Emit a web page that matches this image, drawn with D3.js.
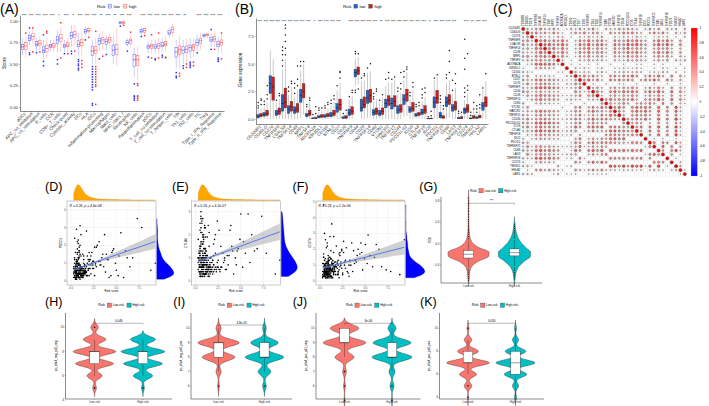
<!DOCTYPE html>
<html><head><meta charset="utf-8">
<script src="https://cdn.jsdelivr.net/npm/d3@7"></script>
<style>html,body{margin:0;padding:0;background:#fff;}svg{display:block;}</style>
</head><body>
<svg id="fig" width="709" height="406" xmlns="http://www.w3.org/2000/svg"></svg>
<script>
// ================= DATA =================
// Panel A : immune ssGSEA scores (box stats: [whiskerLow, q1, median, q3, whiskerHigh])
const immuneCats = ["aDCs","APC_co_inhibition","APC_co_stimulation","B_cells","CCR","CD8+_T_cells","Check-point","Cytolytic_activity","DCs","HLA","iDCs","Inflammation-promoting","Macrophages","Mast_cells","MHC_class_I","Neutrophils","NK_cells","Parainflammation","pDCs","T_cell_co-inhibition","T_cell_co-stimulation","T_helper_cells","Tfh","Th1_cells","Th2_cells","TIL","Treg","Type_I_IFN_Reponse","Type_II_IFN_Reponse"];
const immuneStars = ["***","***","***","***","***","*","***","*","***","***","***","**","***","**","***","***","","***","***","***","***","***","***","**","","***","***","***","***"];
const immuneLow = [[0.60,0.67,0.70,0.73,0.80],[0.72,0.77,0.80,0.83,0.88],[0.65,0.71,0.73,0.76,0.80],[0.56,0.63,0.66,0.70,0.78],[0.65,0.69,0.71,0.73,0.78],[0.64,0.74,0.78,0.82,0.90],[0.64,0.69,0.71,0.73,0.78],[0.70,0.80,0.83,0.87,0.95],[0.60,0.70,0.73,0.77,0.86],[0.83,0.86,0.88,0.90,0.93],[0.50,0.60,0.65,0.70,0.78],[0.65,0.73,0.77,0.80,0.86],[0.66,0.73,0.76,0.79,0.84],[0.50,0.60,0.66,0.72,0.83],[0.96,0.97,0.98,0.99,1.00],[0.70,0.73,0.75,0.77,0.80],[0.35,0.47,0.55,0.61,0.69],[0.84,0.87,0.88,0.90,0.92],[0.63,0.68,0.70,0.72,0.76],[0.62,0.68,0.70,0.73,0.78],[0.65,0.70,0.72,0.75,0.80],[0.80,0.84,0.86,0.89,0.92],[0.45,0.58,0.64,0.69,0.78],[0.50,0.62,0.66,0.70,0.78],[0.57,0.65,0.69,0.72,0.80],[0.65,0.72,0.75,0.78,0.84],[0.80,0.82,0.83,0.84,0.86],[0.70,0.76,0.78,0.81,0.86],[0.62,0.70,0.73,0.76,0.82]];
const immuneHigh = [[0.58,0.67,0.71,0.75,0.82],[0.74,0.79,0.82,0.85,0.90],[0.66,0.72,0.74,0.77,0.82],[0.57,0.64,0.68,0.72,0.80],[0.64,0.69,0.71,0.74,0.79],[0.64,0.76,0.80,0.84,0.93],[0.64,0.70,0.72,0.75,0.80],[0.70,0.81,0.84,0.88,0.96],[0.60,0.71,0.75,0.79,0.88],[0.84,0.88,0.89,0.91,0.93],[0.50,0.62,0.66,0.70,0.80],[0.66,0.74,0.78,0.81,0.88],[0.68,0.75,0.78,0.81,0.86],[0.48,0.61,0.67,0.73,0.92],[0.96,0.97,0.98,0.99,1.00],[0.70,0.74,0.77,0.79,0.83],[0.30,0.48,0.55,0.60,0.70],[0.85,0.87,0.89,0.91,0.93],[0.62,0.68,0.71,0.73,0.78],[0.61,0.68,0.71,0.74,0.80],[0.64,0.71,0.73,0.76,0.82],[0.82,0.87,0.90,0.93,0.97],[0.45,0.61,0.67,0.71,0.82],[0.52,0.63,0.67,0.71,0.80],[0.58,0.66,0.70,0.73,0.80],[0.67,0.74,0.77,0.80,0.86],[0.80,0.83,0.84,0.85,0.86],[0.70,0.76,0.79,0.82,0.88],[0.63,0.72,0.75,0.78,0.84]];
const immuneLowOut = [[],[0.61,0.63,0.92],[0.63],[0.48,0.53,0.84],[],[0.50,0.55],[0.62],[0.62,0.65],[0.43,0.45,0.48,0.50,0.53,0.55],[0.78],[0.02,0.04,0.20,0.23,0.26,0.29,0.32,0.35,0.38,0.41,0.44,0.47],[0.56],[0.61],[],[0.94],[0.65],[0.08,0.10,0.12,0.13,0.27],[0.82],[0.58],[0.55,0.56],[0.58,0.60],[],[0.34,0.36,0.40],[0.45,0.48],[0.46,0.48,0.50,0.52],[0.63],[],[0.67,0.90],[0.53,0.55,0.57]];
const immuneHighOut = [[0.86],[0.64,0.92],[0.64],[0.86,0.88],[],[0.57,0.98],[0.62],[0.65],[0.46,0.50,0.54],[0.81],[0.03,0.24,0.26,0.29,0.32,0.35,0.38,0.41,0.44,0.47,0.88],[0.59],[],[],[0.95],[0.87],[0.08,0.10,0.12,0.13,0.25,0.27],[0.83],[0.57,0.84],[0.57,0.86],[0.57,0.58],[],[0.36,0.39],[0.46,0.50],[0.48,0.52],[],[],[0.67],[0.56,0.86]];
const yTicksA = [0,0.25,0.5,0.75,1];

// Panel B : immune checkpoint gene expression
const geneNames = ["CD200R1","CD40LG","CD276","TNFRSF8","LGALS9","TNFSF14","CD48","NRP1","TNFSF4","ADORA2A","KIR3DL1","CD160","BTNL2","CD27","CD70","TNFRSF9","CD44","CD28","TNFRSF14","CD80","VTCN1","HAVCR2","TNFSF15","CD244","PDCD1LG2","ICOS","CTLA4","TNFSF18","IDO2","PDCD1","TNFRSF25","CD86","LAG3","TNFRSF18","CD274","TMIGD2","HHLA2","LAIR1"];
const geneStars = ["***","***","***","***","***","***","***","***","***","*","***","***","***","***","","***","***","***","***","***","**","***","***","***","***","***","***","***","*","***","***","***","***","","***","**","***","***"];
const geneLow = [[0,0.1,0.25,0.4,0.85],[0,0.25,0.4,0.6,1.1],[0,2.3,3.2,3.9,6.2],[0,0.3,0.5,0.8,1.5],[0,0.7,1.4,2.2,4.4],[0,0.5,0.9,1.2,2.2],[0,0.5,0.8,1.1,2.0],[0.1,1.5,2.1,2.7,4.4],[0,0.2,0.35,0.5,0.9],[0,0.02,0.06,0.1,0.25],[0,0.1,0.2,0.3,0.6],[0,0.15,0.25,0.4,0.8],[0,0.2,0.35,0.6,1.2],[0,0.6,1.0,1.4,2.6],[0,0.05,0.1,0.2,0.4],[0,0.3,0.55,0.9,1.8],[3.0,3.8,4.2,4.5,5.5],[0,0.7,1.0,1.8,3.4],[0.1,1.4,1.9,2.6,4.2],[0,0.35,0.6,0.85,1.6],[0,0.3,0.5,0.8,1.5],[0,1.0,1.4,1.8,3.0],[0,0.9,1.4,1.9,3.3],[0,0.5,0.8,1.2,2.2],[0.2,1.3,1.8,2.2,3.5],[0,0.6,0.85,1.1,1.8],[0,0.25,0.35,0.5,0.9],[0,0.4,0.6,0.9,1.6],[0,0.01,0.03,0.05,0.1],[0,1.0,1.5,2.0,3.5],[0,0.1,0.3,0.6,1.3],[0,1.1,1.5,2.0,3.3],[0,0.7,1.0,1.3,2.2],[0,0.02,0.06,0.15,0.35],[0,0.5,0.8,1.0,1.7],[0,0.01,0.04,0.1,0.25],[0,0.05,0.1,0.2,0.45],[0,0.8,1.2,1.5,2.6]];
const geneHigh = [[0,0.2,0.35,0.5,0.95],[0,0.3,0.5,0.8,1.5],[0,1.7,2.9,3.8,5.4],[0,0.4,0.7,1.0,1.8],[0,1.0,1.5,2.8,5.4],[0,0.7,1.1,1.6,2.9],[0,0.6,0.9,1.4,2.6],[0.4,1.9,2.5,3.2,5.0],[0,0.3,0.5,0.8,1.5],[0,0.03,0.08,0.15,0.35],[0,0.15,0.25,0.4,0.8],[0,0.2,0.35,0.5,1.0],[0,0.3,0.5,0.8,1.5],[0,0.8,1.3,1.8,3.3],[0,0.05,0.15,0.3,0.6],[0,0.4,0.7,1.1,2.1],[3.1,4.0,4.35,4.7,5.6],[0,1.0,1.3,2.0,3.5],[0.2,1.5,2.1,2.7,4.3],[0,0.4,0.7,1.0,1.8],[0,0.4,0.7,1.0,1.9],[0,1.2,1.7,2.1,3.3],[0,1.1,1.6,2.1,3.5],[0,0.6,0.9,1.3,2.4],[0.3,1.6,2.2,2.7,4.2],[0,0.7,0.95,1.5,2.6],[0,0.3,0.45,0.6,1.0],[0,0.5,0.8,1.2,2.0],[0,0.01,0.04,0.08,0.18],[0,1.4,1.9,2.6,3.8],[0,0.05,0.15,0.3,0.7],[0.1,1.3,1.7,2.2,3.5],[0,0.8,1.1,1.6,2.8],[0,0.03,0.08,0.2,0.45],[0,0.6,0.9,1.3,2.3],[0,0.05,0.15,0.3,0.7],[0,0.1,0.2,0.35,0.8],[0,1.1,1.5,2.0,3.4]];
const geneLowOut = [[1.0,1.2,1.5],[1.3,1.6],[],[1.7],[4.8,5.3,5.8,6.2,6.5],[2.5,2.9],[2.3,2.8,3.2],[4.8,5.2],[1.1,1.3],[0.4],[0.8,1.0],[1.0,1.2],[1.4,1.7],[3.0],[0.5],[2.0],[2.4,2.6,5.9,6.1],[3.7],[4.6],[1.8,2.0,2.3],[1.7],[3.6],[3.6],[2.5,2.8],[3.8,4.3],[2.1,2.4],[1.1,1.3],[1.9,2.2,2.7],[0.2],[3.7],[1.5,1.8,2.1],[3.7,4.0],[2.6,3.5],[0.5,0.7],[2.0,2.4,2.8,4.5,5.5,7.2],[0.35,0.6],[0.6,0.9,1.2],[2.8]];
const geneHighOut = [[1.3,1.7,1.8],[1.8,2.2,3.0],[],[2.1,2.3],[5.8,6.4,7.0,7.6,8.2,8.5],[3.2,3.4],[3.0,3.6,4.8],[5.2],[1.7,1.9],[0.5,1.1],[1.0],[1.3,1.5],[1.8,2.1],[3.7,4.2,4.3],[0.8],[2.4,2.6],[2.7,5.9],[3.9,4.1],[5.0],[2.5,2.7],[2.2],[3.7,4.2],[3.8],[2.7,3.2,4.2],[4.5,4.7],[2.9,3.3],[1.2,1.5],[2.4,2.8],[0.3,0.7],[4.0],[0.9,1.2],[4.2,5.2,6.2],[3.2,4.1],[0.6],[2.6,3.0,5.9],[0.9,1.5],[1.0,1.3,2.2],[4.1]];
const yTicksB = [0,2.5,5,7.5];

// Panel C : correlation matrix, upper triangle, digit d = r of d/10
const corrUpper = ["3245334201324235103224343202424032303","453425310243524410433545320353520313","23121320102131230021221311012120102","5645463025463552054465643046463040","675574026574663065576754057574050","56363024562542053564543035452030","4463025463552054465643046463040","352014352441043354532035352031","20103242331032243432024240323","0101010100100100110010100010","021210120011211210010210101","31220231022322320121320201","4535320453546403536305041","463520545454035464053030","01001001100100010010010","3420342435302425204031","530564656504647406051","20342435302425204031","4645546304547406051","423530343530504021","56405656506050720","5305656406050620","304545305040510","44546306050720","3430204030420","450506050720","40505040610","0406050720","010100100","50540620","0605030","405720","04010","0100","020","30","1"];
const colorbarTicks = [1,0.8,0.6,0.4,0.2,0,-0.2,-0.4,-0.6,-0.8,-1];

// Panels D-F : risk score vs gene expression (sampled points)
const riskScore = [0.4,0.6,0.8,0.5,1.1,0.9,0.7,1.3,0.5,0.6,1.0,1.5,0.8,0.4,0.9,1.2,0.7,0.6,1.8,0.5,0.9,1.1,1.4,0.3,0.8,0.6,1.0,2.1,0.7,0.5,1.2,0.9,1.6,0.4,0.8,1.3,0.6,0.7,2.4,1.0,0.5,1.1,0.9,1.7,0.6,0.8,1.4,0.5,1.0,2.0,0.7,0.9,1.2,0.4,1.5,0.8,0.6,1.9,1.1,0.7,2.2,0.5,1.0,1.3,0.8,2.7,0.6,1.6,0.9,1.2,3.0,0.7,1.4,0.5,2.5,1.1,0.8,3.3,1.0,1.8,0.6,2.3,1.5,3.6,0.9,1.2,2.9,0.7,4.0,1.4,2.6,1.0,3.8,1.7,0.8,4.4,2.0,1.3,3.1,5.0,0.6,2.8,4.7,1.1,3.4,5.5,1.9,0.9,4.2,2.2,6.0,1.5,3.7,5.2,2.4,0.5,4.9,6.5,1.6,3.2,7.3,2.1,5.8,1.2,7.8,4.5,9.3,2.6,6.8,3.9,8.8,1.0,0.7,1.3,0.4,2.0,0.8,1.1,0.6,1.5,0.9,1.7,0.5,1.2,0.8,2.3,0.6,1.4,1.0,0.7,
  0.3,0.5,0.7,0.9,1.1,1.3,0.4,0.6,0.8,1.0,1.2,1.4,1.6,0.5,0.7,0.9,0.3,1.1,1.5,0.6,0.8,1.0,1.2,0.4,1.7,0.5,0.9,1.3,2.0,0.7,0.6,1.1,0.8,1.4,0.3,1.9,1.0,0.5,0.7,2.2,1.2,0.9,0.6,1.6,0.4,0.8,1.0,2.5,1.3,0.5,0.7,1.1,0.9,1.8,0.6,0.4,1.5,2.8,0.8,1.0,0.5,1.2,0.7,2.1,0.9,0.3,1.4,0.6,3.5,1.1,0.8,1.7,0.5,2.4,1.0,0.7,4.1,1.3,0.6,2.0,0.9,1.5,0.4,3.2,1.2,0.8,2.7,0.6,1.0,5.3,0.7,1.9,0.5,1.1,4.6,0.9,1.4,6.2,0.8,1.6];
const expPDCD1 = [0.3,0.5,0.2,0.8,0.6,0.4,1.1,0.3,0.1,0.7,0.5,0.9,1.3,0.2,0.4,0.6,0.8,0.3,1.0,0.5,0.2,1.4,0.7,0.4,0.3,0.9,0.1,1.2,0.6,0.8,0.4,1.6,0.5,0.3,0.7,0.2,1.1,0.4,0.9,0.6,0.8,0.3,1.9,0.5,0.2,1.0,0.4,0.7,1.5,0.3,0.6,0.2,0.8,2.4,0.5,1.2,0.3,0.7,0.4,1.8,0.9,0.1,0.6,0.3,2.1,1.0,0.5,0.4,1.3,0.2,1.1,0.8,0.3,0.6,0.7,2.6,0.4,0.9,3.1,1.4,0.2,1.6,0.5,0.8,1.7,0.3,2.0,0.6,1.2,0.4,1.9,0.7,0.5,2.8,0.9,0.3,1.1,1.5,2.2,0.6,2.9,0.8,1.8,0.4,1.3,2.7,0.6,1.0,0.2,1.4,1.7,0.9,2.6,0.3,1.1,1.6,1.0,0.8,0.5,0.9,3.5,1.2,0.2,0.7,3.0,1.6,1.0,0.3,1.3,1.5,0.6,0.4,0.8,0.2,0.5,0.9,0.3,0.6,0.1,0.4,0.7,0.3,0.5,0.8,0.2,1.0,0.4,1.2,0.6,0.3,
  0.2,0.6,0.4,0.9,0.3,0.7,1.2,0.1,0.5,0.8,0.3,1.0,0.6,0.4,1.5,0.2,0.7,0.5,0.9,1.1,0.3,0.6,0.4,1.3,0.8,0.2,1.7,0.5,0.7,0.4,1.0,0.3,0.9,0.6,0.5,1.2,0.2,0.8,2.2,0.4,0.7,1.4,0.3,0.5,1.0,0.6,0.9,1.1,0.4,0.2,1.6,0.8,0.5,0.3,1.2,0.7,0.6,1.9,0.4,0.9,0.5,0.3,1.1,0.7,0.2,0.8,1.4,0.6,1.5,0.4,1.3,0.5,0.9,0.7,2.0,0.3,1.2,0.6,1.0,1.6,0.4,0.8,0.6,1.1,0.3,2.3,0.9,0.5,0.7,1.4,1.0,0.6,0.2,0.8,1.7,0.4,0.5,1.3,0.9,0.7];
const expCTLA4 = [0.4,0.2,0.9,0.6,1.2,0.3,0.7,0.5,1.5,0.2,0.8,0.4,1.0,0.6,2.0,0.3,0.9,1.3,0.5,0.7,1.1,0.3,0.6,1.8,0.4,0.8,2.3,0.5,1.0,0.2,0.7,1.4,0.3,0.9,1.6,0.5,0.4,2.6,0.8,1.2,0.3,1.0,0.6,0.5,2.8,0.7,0.2,1.1,0.9,0.4,1.7,0.8,0.5,1.3,0.6,0.3,2.1,0.9,0.4,1.0,0.6,1.5,0.2,0.7,1.1,0.5,3.0,0.8,1.9,0.4,1.2,0.3,2.4,0.9,0.6,1.4,2.7,0.5,1.0,0.8,1.3,0.4,2.1,0.7,1.8,1.1,0.6,2.5,1.5,0.9,0.5,1.2,2.2,0.4,1.6,1.0,0.7,1.9,0.8,2.9,1.0,0.6,1.4,2.3,0.5,1.2,0.9,1.7,0.3,2.0,0.8,1.5,1.1,0.6,2.6,0.4,1.8,1.3,0.7,0.9,2.8,0.5,2.9,1.0,1.2,0.7,0.9,2.2,1.4,2.4,0.3,0.9,0.6,1.1,0.4,0.7,1.3,0.5,0.8,0.2,1.0,0.6,0.4,0.7,1.2,0.5,0.9,0.3,1.4,0.6,
  0.5,0.3,0.8,0.6,1.1,0.4,0.9,1.7,0.2,0.7,1.3,0.5,0.6,2.2,0.4,0.8,1.0,0.3,0.7,1.5,0.6,0.9,0.4,1.2,0.5,2.5,0.3,0.8,1.1,0.6,0.4,1.9,0.7,0.5,1.0,0.3,1.4,0.6,0.9,1.2,0.8,0.5,1.6,0.4,0.7,2.0,0.3,0.9,1.1,0.6,0.5,1.3,0.8,0.4,2.7,1.0,0.6,1.5,0.7,0.3,1.2,0.9,0.5,1.8,0.4,0.8,0.6,2.3,1.1,0.7,0.5,1.0,1.4,0.6,0.9,2.1,1.3,0.4,0.8,1.6,0.7,0.5,1.2,1.0,0.6,1.9,0.4,0.9,2.4,1.7,0.8,0.6,1.1,0.3,1.3,0.7,0.5,2.0,0.9,1.0];
const expCD274 = [0.5,0.3,0.8,1.0,0.4,0.6,1.2,0.2,0.7,0.9,0.3,1.1,0.5,4.8,0.4,1.4,0.6,0.2,0.9,1.0,0.4,0.8,1.3,0.3,0.6,0.5,0.9,1.7,0.4,0.7,1.0,0.2,0.6,1.5,0.8,0.3,1.1,0.5,2.0,0.7,0.4,0.9,1.2,0.6,0.3,2.4,0.8,0.5,1.0,0.4,0.7,1.3,0.3,0.9,2.8,0.5,0.6,1.1,0.2,0.8,1.6,0.4,1.0,0.7,0.3,1.2,2.6,0.9,0.5,1.9,0.6,1.1,0.8,3.0,0.4,1.5,0.7,1.3,0.9,2.2,0.5,1.0,1.8,0.6,0.3,1.4,2.1,0.8,1.2,0.7,2.5,0.4,1.1,0.9,0.6,1.7,1.0,3.6,0.5,2.3,0.8,1.3,0.7,2.8,1.0,1.6,0.4,1.2,2.0,0.9,1.5,0.6,1.9,1.1,0.8,0.3,1.4,2.0,1.2,1.0,0.7,0.7,0.9,1.4,0.6,2.4,2.6,1.8,0.9,1.3,0.4,0.8,0.5,1.0,0.3,0.6,0.2,0.7,0.9,0.5,1.1,0.4,0.6,0.3,0.8,1.2,0.5,1.0,0.7,0.4,
  0.4,0.7,0.2,0.9,0.5,1.1,0.3,0.6,0.8,1.3,0.5,0.2,0.7,1.0,0.4,1.6,0.6,0.3,0.9,0.5,1.2,0.4,0.8,0.6,1.0,0.3,1.4,0.7,0.5,2.1,0.9,0.6,0.4,1.1,0.2,0.8,1.3,0.5,0.7,1.8,0.3,1.0,0.6,0.9,1.5,0.4,0.7,0.5,1.2,0.8,0.6,0.3,1.1,0.9,0.5,1.7,0.4,0.8,1.0,0.6,1.3,0.7,0.5,0.2,0.9,1.1,0.6,1.4,2.4,0.8,0.4,1.2,0.7,1.9,0.5,0.9,1.6,0.6,1.0,1.3,0.8,0.5,1.1,0.3,0.7,2.2,1.0,0.6,1.5,2.9,0.4,1.2,0.7,0.9,1.8,0.5,1.0,2.3,0.6,0.8];
// fitted lines [intercept, slope] and ribbon half-widths [x, halfwidth]
const fitPDCD1 = [0.59,0.175], bandPDCD1 = [[0.3,0.08],[1.5,0.05],[3,0.08],[5,0.17],[7,0.28],[9.3,0.41]];
const fitCTLA4 = [0.80,0.143], bandCTLA4 = [[0.3,0.08],[1.5,0.05],[3,0.08],[5,0.16],[7,0.25],[9.3,0.36]];
const fitCD274 = [0.77,0.146], bandCD274 = [[0.3,0.09],[1.5,0.06],[3,0.1],[5,0.2],[7,0.32],[9.3,0.46]];
const corText = ["R = 0.26, p = 4.6e-08","R = 0.24, p = 4.2e-07","R = 0.23, p = 2.2e-06"];

// Panel G : TIDE (value levels and counts)
const tideLevels = [-0.65,-0.55,-0.45,-0.35,-0.25,-0.15,-0.05,0.05,0.15,0.25,0.35,0.45,0.55,0.65,0.75,0.85];
const tideLowCounts = [2,3,6,20,60,62,20,7,3,2,1,1,1,1,1,1];
const tideHighCounts = [2,4,10,25,50,50,30,16,8,4,2,0,0,0,0,0];
const tideLowBox = [-0.45,-0.27,-0.2,-0.13,0.05], tideHighBox = [-0.42,-0.23,-0.17,-0.1,0.08];
const tideLowOut = [0.09,0.13,0.17,0.21,0.25,0.29,0.33,0.37,0.41,0.45,0.5,0.55,0.6,0.65,0.7,0.75,0.8,0.85,-0.49,-0.53,-0.57,-0.61,-0.65,-0.69];
const tideHighOut = [0.12,0.16,0.2,0.24,0.28,0.32,0.35,-0.46,-0.5,-0.54,-0.58,-0.62,-0.66];
const tideTicks = [-0.4,0,0.4,0.8];

// Panels H-K : IPS scores (score levels 4..10 and counts)
const ipsLevels = [4,5,6,7,8,9,10];
const ipsH_low = [0,4,16,40,45,24,8], ipsH_high = [0,3,20,40,45,26,0];
const ipsI_low = [0,0,2,6,38,48,6], ipsI_high = [0,0,4,14,42,30,4];
const ipsJ_low = [0,1,2,4,20,45,30], ipsJ_high = [0,1,4,6,40,38,8];
const ipsK_low = [1,8,18,45,22,8,2], ipsK_high = [2,6,22,38,20,6,2];
const ipsBoxes = {H:[[6,7,8,8,9],[6,7,8,8,9]], I:[[7,8,9,9,10],[7,8,8,9,10]], J:[[8,9,9,10,10],[7,8,8,9,10]], K:[[6,7,7,8,9],[4,6,7,8,10]]};
const ipsOut = {H:[[5,10],[5]], I:[[6],[6]], J:[[7,6,5],[6,5]], K:[[5,4,10],[]]};
const ipsTitles = ["ips_ctla4_neg_pd1_neg","ips_ctla4_neg_pd1_pos","ips_ctla4_pos_pd1_neg","ips_ctla4_pos_pd1_pos"];
const ipsP = ["0.049","4.8e-05","3e-06","0.050"];
const riskGroups = ["Low-risk","High-risk"];

// ================= DRAWING =================
const FONT = '"Liberation Sans", Arial, Helvetica, sans-serif';
const svg = d3.select('#fig').attr('font-family', FONT);
svg.append('rect').attr('width',709).attr('height',406).attr('fill','#fff');

function txt(x,y,s,fs,o={}){
  const t=svg.append('text').attr('x',x).attr('y',y).attr('font-size',fs).attr('fill',o.fill||'#000').text(s);
  if(o.anchor) t.attr('text-anchor',o.anchor);
  if(o.rot!=null) t.attr('transform',`rotate(${o.rot},${x},${y})`);
  if(o.baseline) t.attr('dominant-baseline',o.baseline);
  if(o.style) t.attr('font-style',o.style);
  return t;
}
function styleAxis(g,fs,col){
  g.attr('font-size',fs).attr('font-family',FONT);
  g.select('.domain').attr('stroke','#000').attr('stroke-width',0.45);
  g.selectAll('.tick line').attr('stroke','#333').attr('stroke-width',0.35);
  g.selectAll('.tick text').attr('fill',col||'#4d4d4d');
}
function kdeSample(sample,bw,lo,hi,n){
  const out=[];const c=1/(sample.length*bw*Math.sqrt(2*Math.PI));
  for(let i=0;i<=n;i++){const v=lo+(hi-lo)*i/n;let s=0;for(const x of sample){const z=(v-x)/bw;s+=Math.exp(-0.5*z*z);}out.push([v,s*c]);}
  return out;
}
function kdeLevels(levels,counts,bw,lo,hi,n){
  const tot=d3.sum(counts);const out=[];const c=1/(tot*bw*Math.sqrt(2*Math.PI));
  for(let i=0;i<=n;i++){const v=lo+(hi-lo)*i/n;let s=0;levels.forEach((l,k)=>{if(counts[k]>0){const z=(v-l)/bw;s+=counts[k]*Math.exp(-0.5*z*z);}});out.push([v,s*c]);}
  return out;
}
function nrd0(a){
  const s=a.slice().sort(d3.ascending);
  const iqr=d3.quantileSorted(s,0.75)-d3.quantileSorted(s,0.25);
  const lo=Math.min(d3.deviation(a),iqr/1.34);
  return 0.9*lo*Math.pow(a.length,-0.2);
}
function drawBox(g,cx,w,s,out,o){
  const [wlo,q1,med,q3,whi]=s, y=o.y;
  g.append('line').attr('x1',cx).attr('x2',cx).attr('y1',y(wlo)).attr('y2',y(q1)).attr('stroke',o.wcol).attr('stroke-width',o.ww);
  g.append('line').attr('x1',cx).attr('x2',cx).attr('y1',y(q3)).attr('y2',y(whi)).attr('stroke',o.wcol).attr('stroke-width',o.ww);
  g.append('rect').attr('x',cx-w/2).attr('y',y(q3)).attr('width',w).attr('height',Math.max(0.3,y(q1)-y(q3)))
    .attr('fill',o.fill).attr('stroke',o.stroke).attr('stroke-width',o.sw);
  g.append('line').attr('x1',cx-w/2).attr('x2',cx+w/2).attr('y1',y(med)).attr('y2',y(med)).attr('stroke',o.mcol).attr('stroke-width',o.mw);
  out.forEach(v=>o.pt(g,cx,y(v)));
}
function riskLegend(x,y,fsT,fsL,items){
  let cx=x;
  const t=txt(cx,y,'Risk',fsT,{baseline:'central'});
  cx+=t.node().getComputedTextLength()+1.8;
  items.forEach(it=>{
    it.key(cx,y);
    cx+=it.kw+1.2;
    const tt=txt(cx,y,it.label,fsL,{baseline:'central'});
    cx+=tt.node().getComputedTextLength()+2.6;
  });
}

// ---------- Panel A ----------
(function(){
  const L=20,R=224,T=15,B=111;
  const x=d3.scalePoint().domain(immuneCats).range([L,R]).padding(0.6);
  const y=d3.scaleLinear().domain([-0.0465,1.0698]).range([B,T]);
  const g=svg.append('g');
  const gy=g.append('g').attr('transform',`translate(${L},0)`)
    .call(d3.axisLeft(y).tickValues(yTicksA).tickFormat(d3.format('.2f')).tickSize(1.3).tickSizeOuter(0).tickPadding(0.8));
  styleAxis(gy,4.2,'#333');
  const gx=g.append('g').attr('transform',`translate(0,${B})`).call(d3.axisBottom(x).tickSize(1.3).tickSizeOuter(0));
  styleAxis(gx,4.5,'#333');
  gx.selectAll('.tick text').attr('transform','rotate(-45)').attr('text-anchor','end').attr('x',-1.2).attr('y',1.6).attr('dy','0.35em');
  txt(5.5,63,'Score',4.6,{anchor:'middle',rot:-90});
  const low={y,wcol:'#a7a7ff',ww:0.55,fill:'none',stroke:'#4a4aff',sw:0.45,mcol:'#3030ff',mw:0.6,
    pt:(gg,cx,cy)=>gg.append('rect').attr('x',cx-0.75).attr('y',cy-0.75).attr('width',1.5).attr('height',1.5).attr('fill','#2e2eff')};
  const high={y,wcol:'#ffa7a7',ww:0.55,fill:'none',stroke:'#ff4a4a',sw:0.45,mcol:'#ff3030',mw:0.6,
    pt:(gg,cx,cy)=>gg.append('rect').attr('x',cx-0.75).attr('y',cy-0.75).attr('width',1.5).attr('height',1.5).attr('fill','#ff2e2e')};
  immuneCats.forEach((c,i)=>{
    drawBox(g,x(c)-1.65,2.6,immuneLow[i],immuneLowOut[i],low);
    drawBox(g,x(c)+1.65,2.6,immuneHigh[i],immuneHighOut[i],high);
    if(immuneStars[i]) txt(x(c),17.2,immuneStars[i],4.2,{anchor:'middle'});
  });
  txt(0,14,'(A)',14);
  riskLegend(97,6.2,4.3,3.9,[
    {label:'low',kw:5.5,key:(kx,ky)=>{svg.append('rect').attr('x',kx+1).attr('y',ky-1.8).attr('width',3.5).attr('height',3.6).attr('fill','none').attr('stroke','#4a4aff').attr('stroke-width',0.45);
      svg.append('line').attr('x1',kx+1).attr('x2',kx+4.5).attr('y1',ky).attr('y2',ky).attr('stroke','#4a4aff').attr('stroke-width',0.45);
      svg.append('line').attr('x1',kx+2.75).attr('x2',kx+2.75).attr('y1',ky-2.8).attr('y2',ky-1.8).attr('stroke','#a7a7ff').attr('stroke-width',0.45);
      svg.append('line').attr('x1',kx+2.75).attr('x2',kx+2.75).attr('y1',ky+1.8).attr('y2',ky+2.8).attr('stroke','#a7a7ff').attr('stroke-width',0.45);}},
    {label:'high',kw:5.5,key:(kx,ky)=>{svg.append('rect').attr('x',kx+1).attr('y',ky-1.8).attr('width',3.5).attr('height',3.6).attr('fill','none').attr('stroke','#ff4a4a').attr('stroke-width',0.45);
      svg.append('line').attr('x1',kx+1).attr('x2',kx+4.5).attr('y1',ky).attr('y2',ky).attr('stroke','#ff4a4a').attr('stroke-width',0.45);
      svg.append('line').attr('x1',kx+2.75).attr('x2',kx+2.75).attr('y1',ky-2.8).attr('y2',ky-1.8).attr('stroke','#ffa7a7').attr('stroke-width',0.45);
      svg.append('line').attr('x1',kx+2.75).attr('x2',kx+2.75).attr('y1',ky+1.8).attr('y2',ky+2.8).attr('stroke','#ffa7a7').attr('stroke-width',0.45);}}
  ]);
})();

// ---------- Panel B ----------
(function(){
  const L=256,R=488,T=18,B=124;
  const x=d3.scalePoint().domain(geneNames).range([L,R]).padding(0.6);
  const s0=d3.scaleLinear().domain([0,7.5]).range([119,36]);
  const y=d3.scaleLinear().domain([s0.invert(B),s0.invert(T)]).range([B,T]);
  const g=svg.append('g');
  const gy=g.append('g').attr('transform',`translate(${L},0)`)
    .call(d3.axisLeft(y).tickValues(yTicksB).tickFormat(d3.format('.1f')).tickSize(1.3).tickSizeOuter(0).tickPadding(0.8));
  styleAxis(gy,4.3,'#333');
  const gx=g.append('g').attr('transform',`translate(0,${B})`).call(d3.axisBottom(x).tickSize(1.3).tickSizeOuter(0));
  styleAxis(gx,4.3,'#333');
  gx.selectAll('.tick text').attr('transform','rotate(-45)').attr('text-anchor','end').attr('x',-1.2).attr('y',1.6).attr('dy','0.35em');
  txt(242,70,'Gene expression',4.6,{anchor:'middle',rot:-90});
  const pt=(gg,cx,cy)=>gg.append('circle').attr('cx',cx).attr('cy',cy).attr('r',0.75).attr('fill','#111');
  const low={y,wcol:'#9e9e9e',ww:0.55,fill:'#2563c4',stroke:'#2a2a2a',sw:0.3,mcol:'#111',mw:0.5,pt};
  const high={y,wcol:'#9e9e9e',ww:0.55,fill:'#d11f1f',stroke:'#2a2a2a',sw:0.3,mcol:'#111',mw:0.5,pt};
  geneNames.forEach((c,i)=>{
    drawBox(g,x(c)-1.45,2.7,geneLow[i],geneLowOut[i],low);
    drawBox(g,x(c)+1.45,2.7,geneHigh[i],geneHighOut[i],high);
    if(geneStars[i]) txt(x(c),23,geneStars[i],4,{anchor:'middle'});
  });
  txt(235,14,'(B)',14);
  riskLegend(343,6.2,4.3,3.9,[
    {label:'low',kw:5.2,key:(kx,ky)=>{svg.append('rect').attr('x',kx+0.8).attr('y',ky-1.9).attr('width',3.6).attr('height',3.8).attr('fill','#2563c4').attr('stroke','#222').attr('stroke-width',0.3);}},
    {label:'high',kw:5.2,key:(kx,ky)=>{svg.append('rect').attr('x',kx+0.8).attr('y',ky-1.9).attr('width',3.6).attr('height',3.8).attr('fill','#d11f1f').attr('stroke','#222').attr('stroke-width',0.3);}}
  ]);
})();

// ---------- Panel C ----------
(function(){
  const n=geneNames.length, L=521, R=687, T=27, B=176;
  const x=d3.scaleBand().domain(d3.range(n)).range([L,R]);
  const y=d3.scaleBand().domain(d3.range(n)).range([T,B]);
  const cw=x.bandwidth(), ch=y.bandwidth();
  const val=(i,j)=>{ if(i===j) return 1; const a=Math.min(i,j), b=Math.max(i,j); const c=(corrUpper[a]||'')[b-a-1]; return c?(+c)/10:0; };
  const col=d3.scaleLinear().domain([-1,0,1]).range(['#0000ff','#ffffff','#ff0000']);
  const g=svg.append('g');
  for(let i=0;i<n;i++) for(let j=0;j<n;j++){
    g.append('rect').attr('x',x(j)).attr('y',y(i)).attr('width',cw).attr('height',ch).attr('fill','#fff').attr('stroke','#dcdcdc').attr('stroke-width',0.25);
  }
  for(let i=0;i<n;i++) for(let j=0;j<n;j++){
    const v=val(i,j); if(Math.abs(v)<0.05) continue;
    g.append('circle').attr('cx',x(j)+cw/2).attr('cy',y(i)+ch/2).attr('r',Math.sqrt(Math.abs(v))*Math.min(cw,ch)/2*0.82)
      .attr('fill',col(v)).attr('stroke','#2a2a2a').attr('stroke-width',0.35);
  }
  geneNames.forEach((nm,i)=>{
    txt(L-0.8,y(i)+ch/2,nm,2.7,{anchor:'end',baseline:'central'});
    txt(x(i)+cw/2,T-0.8,nm,2.7,{rot:-90,baseline:'central'});
  });
  const defs=svg.append('defs');
  const gr=defs.append('linearGradient').attr('id','cbar').attr('x1',0).attr('x2',0).attr('y1',0).attr('y2',1);
  [1,0.5,0,-0.5,-1].forEach((v,k)=>gr.append('stop').attr('offset',(k*25)+'%').attr('stop-color',col(v)));
  const cy=d3.scaleLinear().domain([1,-1]).range([28,176]);
  svg.append('rect').attr('x',691).attr('y',28).attr('width',6.3).attr('height',148).attr('fill','url(#cbar)').attr('stroke','#bbb').attr('stroke-width',0.25);
  colorbarTicks.forEach(v=>txt(699.5,cy(v),String(v),3.1,{baseline:'central'}));
  txt(493,14,'(C)',14);
})();

// ---------- Panels D, E, F ----------
function scatterPanel(o){
  const {L,R,T,B}=o;
  const x0=d3.scaleLinear().domain([0,7.5]).range([L+4,L+4+7.5*9.07]);
  const x=d3.scaleLinear().domain([x0.invert(L),x0.invert(R)]).range([L,R]);
  const s0=d3.scaleLinear().domain([o.yv[0],o.yv[2]]).range([o.yv[1],o.yv[3]]);
  const y=d3.scaleLinear().domain([s0.invert(B),s0.invert(T)]).range([B,T]);
  const g=svg.append('g');
  g.append('rect').attr('x',L).attr('y',T).attr('width',R-L).attr('height',B-T).attr('fill','#fff');
  const xt=[0,2.5,5,7.5], xm=[1.25,3.75,6.25,8.75];
  const ym=o.yTicks.map(v=>v+0.5).concat([o.yTicks[0]-0.5]);
  xm.forEach(v=>g.append('line').attr('x1',x(v)).attr('x2',x(v)).attr('y1',T).attr('y2',B).attr('stroke','#f2f2f2').attr('stroke-width',0.25));
  ym.forEach(v=>{ if(y(v)>T&&y(v)<B) g.append('line').attr('x1',L).attr('x2',R).attr('y1',y(v)).attr('y2',y(v)).attr('stroke','#f2f2f2').attr('stroke-width',0.25);});
  xt.forEach(v=>g.append('line').attr('x1',x(v)).attr('x2',x(v)).attr('y1',T).attr('y2',B).attr('stroke','#e6e6e6').attr('stroke-width',0.4));
  o.yTicks.forEach(v=>g.append('line').attr('x1',L).attr('x2',R).attr('y1',y(v)).attr('y2',y(v)).attr('stroke','#e6e6e6').attr('stroke-width',0.4));
  const n=Math.min(riskScore.length,o.yData.length);
  for(let i=0;i<n;i++) g.append('circle').attr('cx',x(riskScore[i])).attr('cy',y(o.yData[i])).attr('r',0.8).attr('fill','#000');
  const [a,b]=o.fit;
  g.append('path').datum(o.band).attr('d',d3.area().x(d=>x(d[0])).y0(d=>y(a+b*d[0]-d[1])).y1(d=>y(a+b*d[0]+d[1])).curve(d3.curveMonotoneX))
    .attr('fill','#999').attr('fill-opacity',0.45);
  const xr=d3.extent(o.band,d=>d[0]);
  g.append('line').attr('x1',x(xr[0])).attr('x2',x(xr[1])).attr('y1',y(a+b*xr[0])).attr('y2',y(a+b*xr[1])).attr('stroke','#3366ff').attr('stroke-width',0.8);
  g.append('rect').attr('x',L).attr('y',T).attr('width',R-L).attr('height',B-T).attr('fill','none').attr('stroke','#8c8c8c').attr('stroke-width',0.45);
  xt.forEach(v=>{ g.append('line').attr('x1',x(v)).attr('x2',x(v)).attr('y1',B).attr('y2',B+1).attr('stroke','#555').attr('stroke-width',0.3);
    txt(x(v),B+3.7,v.toFixed(1),2.8,{anchor:'middle',fill:'#4d4d4d'}); });
  o.yTicks.forEach(v=>{ g.append('line').attr('x1',L-1).attr('x2',L).attr('y1',y(v)).attr('y2',y(v)).attr('stroke','#555').attr('stroke-width',0.3);
    txt(L-1.5,y(v),String(v),2.8,{anchor:'end',baseline:'central',fill:'#4d4d4d'}); });
  txt((L+R)/2,B+6.6,'Risk score',3,{anchor:'middle'});
  txt(L-4.6,(T+B)/2,o.ylab,3,{anchor:'middle',rot:-90});
  const ct=svg.append('text').attr('x',L+2.5).attr('y',T+6).attr('font-size',3.4).attr('fill','#000');
  const parts=o.cor.split(/(R|p)(?= =)/);
  parts.forEach(p=>{ if(!p) return; const ts=ct.append('tspan').text(p); if(p==='R'||p==='p') ts.attr('font-style','italic'); });
  const bwX=nrd0(riskScore), ex=d3.extent(riskScore);
  const dX=kdeSample(riskScore,bwX,ex[0],ex[1],120);
  const hX=d3.scaleLinear().domain([0,d3.max(dX,d=>d[1])]).range([0,15.5]);
  svg.append('path').datum(dX).attr('d',d3.area().x(d=>x(d[0])).y0(T-0.8).y1(d=>T-0.8-hX(d[1])).curve(d3.curveBasis))
    .attr('fill','#ffa500').attr('stroke','#c98200').attr('stroke-width',0.25);
  const yd=o.yData.slice(0,n), bwY=nrd0(yd), ey=d3.extent(yd);
  const dY=kdeSample(yd,bwY,ey[0],Math.min(ey[1],y.domain()[1]),120);
  const wY=d3.scaleLinear().domain([0,d3.max(dY,d=>d[1])]).range([0,o.rw]);
  svg.append('path').datum(dY).attr('d',d3.area().y(d=>y(d[0])).x0(R+0.8).x1(d=>R+0.8+wY(d[1])).curve(d3.curveBasis))
    .attr('fill','#0000ff').attr('stroke','#0000b0').attr('stroke-width',0.25);
  txt(o.lx,190.7,o.label,12.5);
}
scatterPanel({L:67,R:156,T:201,B:285,yv:[0,281,4,209.7],yTicks:[0,1,2,3,4],yData:expPDCD1,fit:fitPDCD1,band:bandPDCD1,ylab:'PDCD1',cor:corText[0],rw:17,lx:45,label:'(D)'});
scatterPanel({L:191.5,R:280.5,T:201,B:285,yv:[0,281,3,211.7],yTicks:[0,1,2,3],yData:expCTLA4,fit:fitCTLA4,band:bandCTLA4,ylab:'CTLA4',cor:corText[1],rw:16,lx:172,label:'(E)'});
scatterPanel({L:316,R:405,T:201,B:285,yv:[0,281,5,201.7],yTicks:[0,1,2,3,4,5],yData:expCD274,fit:fitCD274,band:bandCD274,ylab:'CD274',cor:corText[2],rw:19,lx:292.5,label:'(F)'});

// ---------- Violin panels G-K ----------
function violinPanel(o){
  const {L,R,T,B}=o;
  const x=d3.scalePoint().domain(riskGroups).range([L,R]).padding(0.6);
  const step=x.step();
  const s0=d3.scaleLinear().domain([o.yv[0],o.yv[2]]).range([o.yv[1],o.yv[3]]);
  const y=d3.scaleLinear().domain([s0.invert(B),s0.invert(T)]).range([B,T]);
  const g=svg.append('g');
  const fills=['#F8766D','#00BFC4'];
  const dens=o.counts.map(c=>{
    const lv=o.levels.filter((l,i)=>c[i]>0);
    return kdeLevels(o.levels,c,o.bw,d3.min(lv)-3*o.bw,d3.max(lv)+3*o.bw,240);
  });
  const maxD=d3.max(dens,d=>d3.max(d,e=>e[1]));
  const w=d3.scaleLinear().domain([0,maxD]).range([0,0.45*step]);
  riskGroups.forEach((k,i)=>{
    const cx=x(k);
    g.append('path').datum(dens[i]).attr('d',d3.area().y(d=>y(d[0])).x0(d=>cx-w(d[1])).x1(d=>cx+w(d[1])).curve(d3.curveBasis))
      .attr('fill',fills[i]).attr('stroke','#1a1a1a').attr('stroke-width',0.35);
    drawBox(g,cx,o.boxW*step,o.boxes[i],o.outs[i],{y,wcol:'#1a1a1a',ww:0.35,fill:'#fff',stroke:'#1a1a1a',sw:0.35,mcol:'#1a1a1a',mw:0.45,
      pt:(gg,px,py)=>gg.append('circle').attr('cx',px).attr('cy',py).attr('r',o.ptR).attr('fill','#111')});
    txt(cx,B+4,k,2.9,{anchor:'middle',fill:'#333'});
    g.append('line').attr('x1',cx).attr('x2',cx).attr('y1',B).attr('y2',B+1).attr('stroke','#333').attr('stroke-width',0.3);
  });
  g.append('line').attr('x1',L).attr('x2',R).attr('y1',B).attr('y2',B).attr('stroke','#000').attr('stroke-width',0.45);
  g.append('line').attr('x1',L).attr('x2',L).attr('y1',T).attr('y2',B).attr('stroke','#000').attr('stroke-width',0.45);
  o.yTicks.forEach(v=>{ g.append('line').attr('x1',L-1).attr('x2',L).attr('y1',y(v)).attr('y2',y(v)).attr('stroke','#333').attr('stroke-width',0.3);
    txt(L-1.6,y(v),o.fmt(v),3,{anchor:'end',baseline:'central',fill:'#333'}); });
  txt(o.ytx,(T+B)/2,o.ylab,2.9,{anchor:'middle',rot:-90});
  const x1=x(riskGroups[0]), x2=x(riskGroups[1]);
  g.append('path').attr('d',`M${x1},${o.by+1.3}V${o.by}H${x2}V${o.by+1.3}`).attr('fill','none').attr('stroke','#333').attr('stroke-width',0.35);
  txt((x1+x2)/2,o.by-0.9,o.p,3,{anchor:'middle'});
  riskLegend(o.legX,o.legY,3.5,3.05,riskGroups.map((k,i)=>({label:k,kw:4.6,key:(kx,ky)=>{
    svg.append('rect').attr('x',kx+0.3).attr('y',ky-2.15).attr('width',4.3).attr('height',4.3).attr('fill',fills[i]).attr('stroke','#333').attr('stroke-width',0.3);}})));
  txt(o.lx,o.ly,o.label,12.5);
}
violinPanel({L:441,R:542,T:197,B:283,yv:[0.8,200.7,-0.4,265],yTicks:tideTicks,fmt:v=>v.toFixed(1),levels:tideLevels,counts:[tideLowCounts,tideHighCounts],bw:0.05,
  boxes:[tideLowBox,tideHighBox],outs:[tideLowOut,tideHighOut],boxW:0.22,ptR:0.55,ylab:'TIDE',ytx:430.5,by:203.3,p:'***',legX:470,legY:190.7,lx:419.3,ly:190.7,label:'(G)'});
const ipsPanels=[
  {k:'H',L:65.5,R:172,yv:[10,327.3,4,400],yTicks:[4,6,8,10],low:ipsH_low,high:ipsH_high,ytx:56.8,by:323.3,legX:98.3,lx:45,label:'(H)'},
  {k:'I',L:191,R:292,yv:[10,328.3,6,386],yTicks:[6,7,8,9,10],low:ipsI_low,high:ipsI_high,ytx:181.5,by:325,legX:218.3,lx:173.3,label:'(I)'},
  {k:'J',L:316,R:420.5,yv:[10,328.3,6,386],yTicks:[6,7,8,9,10],low:ipsJ_low,high:ipsJ_high,ytx:306.5,by:323.3,legX:346,lx:292.7,label:'(J)'},
  {k:'K',L:439.5,R:544,yv:[10,328.3,4,397.3],yTicks:[4,6,8,10],low:ipsK_low,high:ipsK_high,ytx:430,by:323.3,legX:471.7,lx:420,label:'(K)'}
];
ipsPanels.forEach((p,i)=>violinPanel({L:p.L,R:p.R,T:313,B:399,yv:p.yv,yTicks:p.yTicks,fmt:v=>String(v),levels:ipsLevels,counts:[p.low,p.high],bw:0.24,
  boxes:ipsBoxes[p.k],outs:ipsOut[p.k],boxW:0.2,ptR:0.8,ylab:ipsTitles[i],ytx:p.ytx,by:p.by,p:ipsP[i],legX:p.legX,legY:305.2,lx:p.lx,ly:306,label:p.label}));
</script>
</body></html>
